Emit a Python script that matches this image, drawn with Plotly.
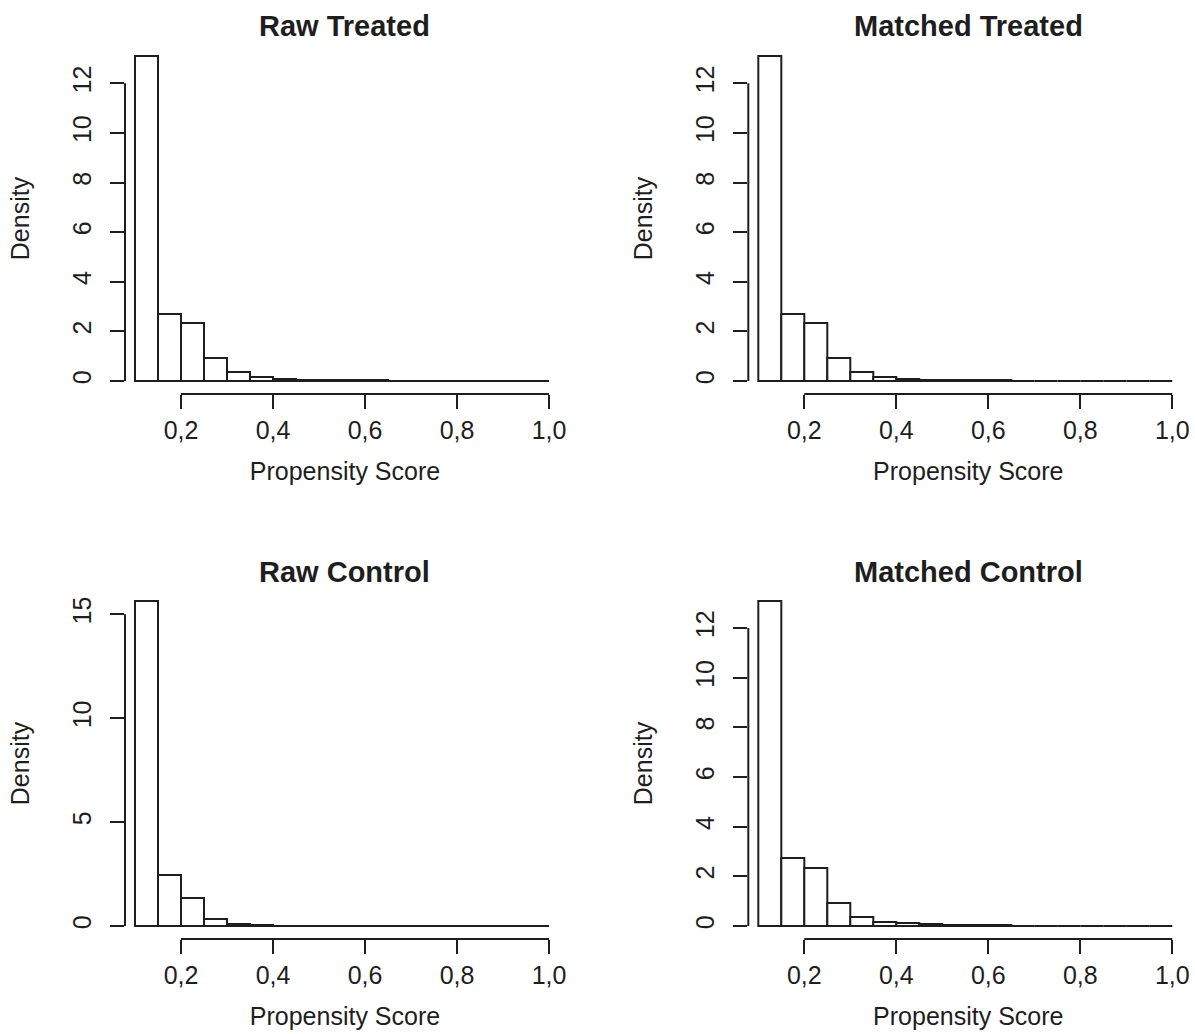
import plotly.graph_objects as go

# ---------------- data ----------------
bin_edges = [0.10, 0.15, 0.20, 0.25, 0.30, 0.35, 0.40, 0.45, 0.50, 0.55,
             0.60, 0.65, 0.70, 0.75, 0.80, 0.85, 0.90, 0.95, 1.00]

raw_treated = [13.10, 2.70, 2.33, 0.91, 0.35, 0.15, 0.09, 0.06, 0.05, 0.04,
               0.03, 0.02, 0.02, 0.01, 0.01, 0.01, 0.01, 0.01]
matched_treated = [13.10, 2.70, 2.33, 0.91, 0.35, 0.15, 0.09, 0.06, 0.05, 0.04,
                   0.03, 0.02, 0.02, 0.01, 0.01, 0.01, 0.01, 0.01]
raw_control = [15.64, 2.47, 1.34, 0.35, 0.12, 0.05, 0.02, 0.01, 0.006, 0.005,
               0.004, 0.003, 0.002, 0.002, 0.001, 0.001, 0.001, 0.001]
matched_control = [13.09, 2.72, 2.33, 0.94, 0.37, 0.17, 0.12, 0.07, 0.05, 0.04,
                   0.03, 0.02, 0.01, 0.01, 0.01, 0.01, 0.01, 0.01]

panel_titles = ["Raw Treated", "Matched Treated", "Raw Control", "Matched Control"]
x_tick_vals = [0.2, 0.4, 0.6, 0.8, 1.0]
x_tick_text = ["0,2", "0,4", "0,6", "0,8", "1,0"]
y_ticks_treated = [0, 2, 4, 6, 8, 10, 12]
y_ticks_raw_control = [0, 5, 10, 15]
x_label = "Propensity Score"
y_label = "Density"

# ---------------- layout geometry (pixels) ----------------
W, H = 1195, 1034
FONT = "Liberation Sans, Arial, Helvetica, sans-serif"
INK = "#1e1e1e"
LW = 2.0
FS = 25

col_px = [(125.0, 565.0), (748.3, 1188.3)]
row_px = [(43.0, 394.0), (588.0, 939.0)]
px_per_unit = 460.0
x_left = 0.10 - 10.0 / px_per_unit
x_range = [x_left, x_left + 440.0 / px_per_unit]

panels = [
    (panel_titles[0], raw_treated, y_ticks_treated, 0, 0),
    (panel_titles[1], matched_treated, y_ticks_treated, 0, 1),
    (panel_titles[2], raw_control, y_ticks_raw_control, 1, 0),
    (panel_titles[3], matched_control, y_ticks_treated, 1, 1),
]

centers = [(a + b) / 2 for a, b in zip(bin_edges[:-1], bin_edges[1:])]
widths = [b - a for a, b in zip(bin_edges[:-1], bin_edges[1:])]

fig = go.Figure()
layout = dict(
    width=W, height=H, autosize=False,
    margin=dict(l=0, r=0, t=0, b=0),
    paper_bgcolor="white", plot_bgcolor="white",
    showlegend=False,
    font=dict(family=FONT, size=FS, color=INK),
    bargap=0,
)
shapes = []
annotations = []

for i, (title, vals, yt, r, c) in enumerate(panels):
    n = i + 1
    xa = "x" if n == 1 else f"x{n}"
    ya = "y" if n == 1 else f"y{n}"
    fig.add_trace(go.Bar(
        x=centers, y=vals, width=widths,
        marker=dict(color="white", line=dict(color=INK, width=LW)),
        xaxis=xa, yaxis=ya, hoverinfo="x+y",
    ))
    x0, x1 = col_px[c]
    y0, y1 = row_px[r]
    ymax = max(vals)
    layout[f"xaxis{'' if n == 1 else n}"] = dict(
        domain=[x0 / W, x1 / W], anchor=ya, range=x_range,
        showgrid=False, zeroline=False, showline=False,
        ticks="outside", ticklen=14, tickwidth=LW, tickcolor=INK,
        tickvals=x_tick_vals, ticktext=x_tick_text,
        tickfont=dict(size=FS, family=FONT, color=INK),
        title=dict(text=x_label, font=dict(size=FS, family=FONT, color=INK), standoff=19),
        fixedrange=True,
    )
    layout[f"yaxis{'' if n == 1 else n}"] = dict(
        domain=[1 - y1 / H, 1 - y0 / H], anchor=xa,
        range=[-0.04 * ymax, 1.04 * ymax],
        showgrid=False, zeroline=False, showline=False,
        ticks="outside", ticklen=14, tickwidth=LW, tickcolor=INK,
        tickvals=yt, ticktext=[str(v) for v in yt], tickangle=-90,
        ticklabelstandoff=9,
        tickfont=dict(size=FS, family=FONT, color=INK),
        title=dict(text=y_label, font=dict(size=FS, family=FONT, color=INK), standoff=31),
        fixedrange=True,
    )
    # R-style axis lines that span only from first to last tick
    shapes.append(dict(type="line", xref=xa, yref="paper",
                       x0=min(x_tick_vals), x1=max(x_tick_vals),
                       y0=1 - y1 / H, y1=1 - y1 / H,
                       line=dict(color=INK, width=LW)))
    shapes.append(dict(type="line", xref="paper", yref=ya,
                       x0=x0 / W, x1=x0 / W, y0=min(yt), y1=max(yt),
                       line=dict(color=INK, width=LW)))
    annotations.append(dict(
        text=f"<b>{title}</b>", xref="paper", yref="paper",
        x=(x0 + x1) / 2 / W, y=1 - (y0 - 16.5) / H,
        xanchor="center", yanchor="middle", showarrow=False,
        font=dict(size=29, family=FONT, color=INK),
    ))

layout["shapes"] = shapes
layout["annotations"] = annotations
fig.update_layout(**layout)
fig.write_html("out.html", config={"displayModeBar": False})
